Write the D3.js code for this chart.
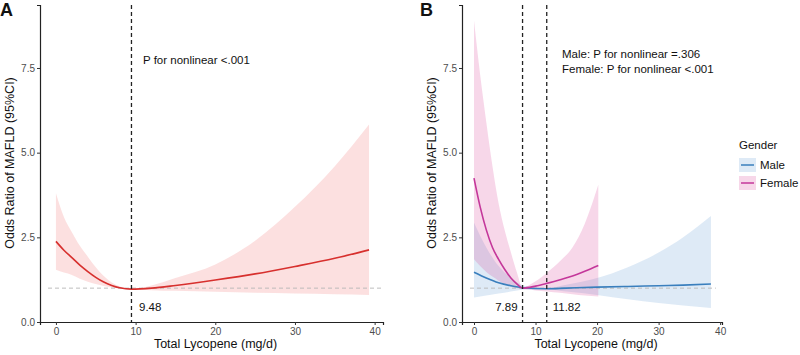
<!DOCTYPE html>
<html>
<head>
<meta charset="utf-8">
<script src="https://cdn.jsdelivr.net/npm/d3@7"></script>
<style>
  body { margin: 0; background: #fff; }
  svg text { font-family: "Liberation Sans", Arial, sans-serif; }
</style>
</head>
<body>
<div id="content"></div>
<script>
'use strict';
//////////////////// input data
// panel A: overall
const aX   = [0, 1, 2, 3, 4, 5, 6, 7, 8, 9.48, 12, 15, 20, 25, 30, 35, 39.3];
const aEst = [2.38, 2.12, 1.9, 1.68, 1.49, 1.32, 1.18, 1.08, 1.01, 0.97, 1.0, 1.08, 1.24, 1.42, 1.64, 1.88, 2.13];
const aLo  = [1.54, 1.46, 1.39, 1.28, 1.19, 1.12, 1.06, 1.02, 0.99, 0.97, 0.94, 0.92, 0.89, 0.86, 0.84, 0.82, 0.80];
const aHi  = [3.8, 3.1, 2.65, 2.25, 1.93, 1.62, 1.36, 1.17, 1.05, 0.97, 1.08, 1.3, 1.7, 2.4, 3.4, 4.6, 5.83];

// panel B: male
const mX   = [0, 2, 4, 6, 8, 11.82, 15, 20, 25, 30, 34, 38.5];
const mEst = [1.47, 1.3, 1.16, 1.07, 1.01, 0.98, 1.0, 1.03, 1.05, 1.07, 1.09, 1.12];
const mLo  = [0.72, 0.78, 0.84, 0.9, 0.95, 0.96, 0.9, 0.8, 0.67, 0.56, 0.49, 0.41];
const mHi  = [2.93, 2.2, 1.65, 1.3, 1.08, 1.0, 1.1, 1.3, 1.62, 2.05, 2.5, 3.13];

// panel B: female
const fX   = [0, 1, 2, 3, 4, 5, 6, 7, 7.89, 10, 11.82, 14, 16, 18, 20.2];
const fEst = [4.25, 3.4, 2.72, 2.2, 1.85, 1.55, 1.3, 1.12, 1.0, 1.06, 1.14, 1.25, 1.36, 1.5, 1.67];
const fLo  = [1.85, 1.65, 1.48, 1.34, 1.22, 1.12, 1.05, 1.0, 0.98, 0.93, 0.9, 0.86, 0.82, 0.78, 0.75];
const fHi  = [8.9, 7.3, 5.9, 4.6, 3.5, 2.7, 2.05, 1.45, 1.02, 1.2, 1.45, 1.8, 2.2, 2.9, 4.05];

const xTicks = [0, 10, 20, 30, 40];
const yTicks = [0, 2.5, 5, 7.5];
const refOR = 1;
const aCut = [9.48];
const bCut = [7.89, 11.82];
const genders = ['Male', 'Female'];

const rows = (xs, est, lo, hi) => xs.map((x, i) => ({x: x, est: est[i], lo: lo[i], hi: hi[i]}));

//////////////////// drawing area
const W = 800, H = 355;
const svg = d3.select("#content").append("svg")
    .attr("width", W).attr("height", H);
svg.append("rect").attr("width", W).attr("height", H).attr("fill", "#fff");

const yRange = [322, 5];
const yDomain = [0, 9.36];

function panel(opts) {
  const x = d3.scaleLinear().domain(opts.xDomain).range(opts.xRange);
  const y = d3.scaleLinear().domain(yDomain).range(yRange);
  const g = svg.append("g");

  const area = d3.area().x(d => x(d.x)).y0(d => y(d.lo)).y1(d => y(d.hi)).curve(d3.curveMonotoneX);
  const line = d3.line().x(d => x(d.x)).y(d => y(d.est)).curve(d3.curveMonotoneX);

  opts.series.forEach(s => {
    g.append("path").attr("d", area(s.data))
      .attr("fill", s.band).attr("fill-opacity", 0.2);
  });

  // reference line OR = 1
  g.append("line")
    .attr("x1", opts.xRange[0] + 8).attr("x2", x(opts.refEnd))
    .attr("y1", y(refOR)).attr("y2", y(refOR))
    .attr("stroke", "#b5b5b5").attr("stroke-width", 0.9)
    .attr("stroke-dasharray", "4,3");

  opts.series.forEach(s => {
    g.append("path").attr("d", line(s.data))
      .attr("fill", "none").attr("stroke", s.line).attr("stroke-width", 1.6);
  });

  // cut points
  opts.cuts.forEach(c => {
    g.append("line")
      .attr("x1", x(c)).attr("x2", x(c))
      .attr("y1", yRange[1]).attr("y2", yRange[0])
      .attr("stroke", "#222").attr("stroke-width", 1.3)
      .attr("stroke-dasharray", "4,3");
  });

  const xAxis = g.append("g")
    .attr("transform", "translate(0," + yRange[0] + ")")
    .call(d3.axisBottom(x).tickValues(xTicks).tickSizeOuter(0).tickSize(3).tickPadding(3));
  const yAxis = g.append("g")
    .attr("transform", "translate(" + opts.xRange[0] + ",0)")
    .call(d3.axisLeft(y).tickValues(yTicks).tickFormat(d3.format(".1f")).tickSizeOuter(0).tickSize(3).tickPadding(2));
  [xAxis, yAxis].forEach(a => {
    a.select(".domain").attr("stroke", "#222").attr("stroke-width", 1.2);
    a.selectAll(".tick line").attr("stroke", "#333");
    a.selectAll(".tick text").attr("fill", "#4d4d4d").style("font-size", "10px");
  });

  g.append("text")
    .attr("x", (opts.xRange[0] + opts.xRange[1]) / 2 + 4).attr("y", 348)
    .attr("text-anchor", "middle").style("font-size", "12.5px").attr("fill", "#111")
    .text("Total Lycopene (mg/d)");
  g.append("text")
    .attr("transform", "translate(" + (opts.xRange[0] - 26) + ",163) rotate(-90)")
    .attr("text-anchor", "middle").style("font-size", "12.5px").attr("fill", "#111")
    .text("Odds Ratio of MAFLD (95%CI)");

  g.append("text")
    .attr("x", opts.letterX).attr("y", 16)
    .style("font-size", "18px").style("font-weight", "bold").attr("fill", "#111")
    .text(opts.letter);

  return {x: x, y: y, g: g};
}

//////////////////// panel A
const pA = panel({
  xDomain: [-2.0, 41.05], xRange: [40, 383],
  series: [{data: rows(aX, aEst, aLo, aHi), band: "rgb(240,100,100)", line: "#d7302e"}],
  cuts: aCut, refEnd: 41.05, letter: "A", letterX: 0
});
pA.g.append("text").attr("x", 143).attr("y", 64)
  .style("font-size", "11.5px").attr("fill", "#111").text("P for nonlinear <.001");
pA.g.append("text").attr("x", 139).attr("y", 311)
  .style("font-size", "11.5px").attr("fill", "#111").text("9.48");

//////////////////// panel B
const colB = {Male: {band: "rgb(90,150,210)", line: "#3a7fbd"}, Female: {band: "rgb(215,55,145)", line: "#c4379a"}};
const pB = panel({
  xDomain: [-1.95, 40.3], xRange: [462, 722],
  series: [
    {data: rows(mX, mEst, mLo, mHi), band: colB.Male.band, line: colB.Male.line},
    {data: rows(fX, fEst, fLo, fHi), band: colB.Female.band, line: colB.Female.line}
  ],
  cuts: bCut, refEnd: 39.3, letter: "B", letterX: 420
});
pB.g.append("text").attr("x", 562).attr("y", 58)
  .style("font-size", "11.5px").attr("fill", "#111").text("Male: P for nonlinear =.306");
pB.g.append("text").attr("x", 562).attr("y", 73)
  .style("font-size", "11.5px").attr("fill", "#111").text("Female: P for nonlinear <.001");
pB.g.append("text").attr("x", pB.x(bCut[0]) - 5).attr("y", 311).attr("text-anchor", "end")
  .style("font-size", "11.5px").attr("fill", "#111").text("7.89");
pB.g.append("text").attr("x", pB.x(bCut[1]) + 6).attr("y", 311)
  .style("font-size", "11.5px").attr("fill", "#111").text("11.82");

// legend
const leg = svg.append("g").attr("transform", "translate(739,0)");
leg.append("text").attr("x", 0).attr("y", 149)
  .style("font-size", "11.5px").attr("fill", "#111").text("Gender");
genders.forEach((gname, i) => {
  const yc = 165 + i * 18;
  leg.append("rect").attr("x", 0).attr("y", yc - 7).attr("width", 17).attr("height", 14)
    .attr("fill", colB[gname].band).attr("fill-opacity", 0.2);
  leg.append("line").attr("x1", 2).attr("x2", 15).attr("y1", yc).attr("y2", yc)
    .attr("stroke", colB[gname].line).attr("stroke-width", 1.5);
  leg.append("text").attr("x", 21).attr("y", yc + 4)
    .style("font-size", "11.5px").attr("fill", "#111").text(gname);
});
</script>
</body>
</html>
